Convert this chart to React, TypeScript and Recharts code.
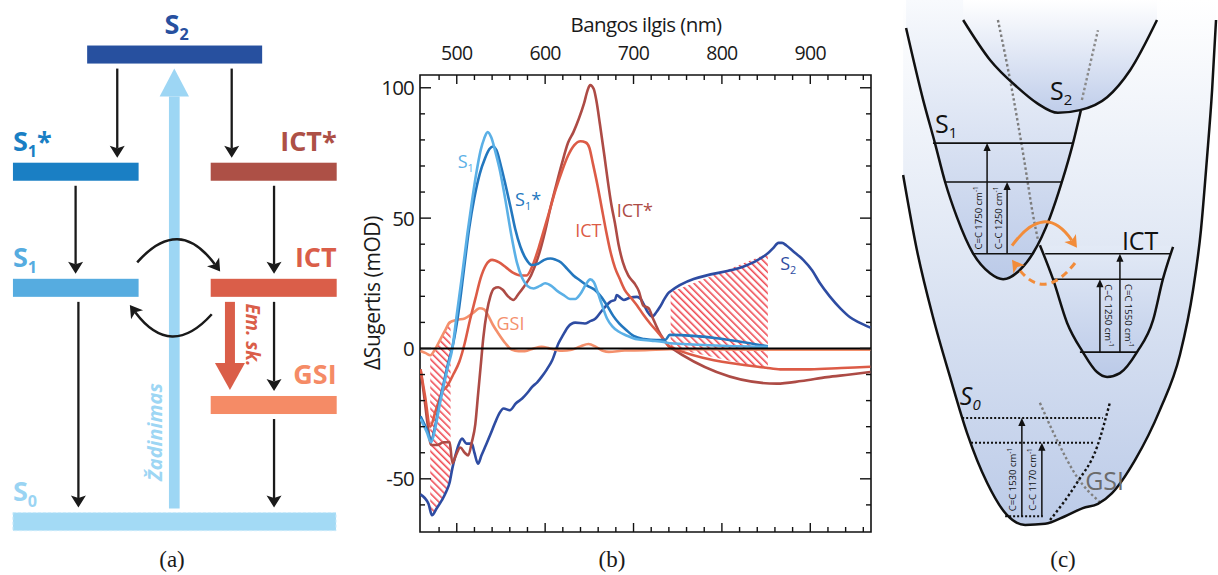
import React from 'react';
import {
  ComposedChart,
  Line,
  Area,
  XAxis,
  YAxis,
  ReferenceLine,
  ReferenceArea,
  ReferenceDot,
} from 'recharts';

type P = [number, number];
type R = [number, number, number];

// ---------- (b) spectra: [wavelength nm, ΔA mOD] ----------
const s1Spectrum: P[] = [
  [459, -27], [466, -32], [471, -36], [476, -30], [481, -21], [486, -13], [490, -7], [495, 0],
  [500, 13], [506, 28], [512, 44], [517, 56], [522, 67], [527, 76], [531, 80.5], [535, 83],
  [539, 81], [544, 75], [549, 68], [555, 57], [562, 43], [568, 33], [574, 27], [580, 24],
  [587, 23], [594, 24], [600, 25], [607, 24], [614, 22], [621, 20.5], [628, 19], [634, 19],
  [640, 21], [646, 24.5], [651, 26.5], [655, 25.5], [659, 22], [664, 17], [670, 11.5], [676, 8.5],
  [683, 6.5], [692, 5], [704, 3.5], [720, 3], [734, 2.5], [741, 2], [852, 0.6],
];
const s1StarSpectrum: P[] = [
  [459, -26], [466, -31], [471, -35], [476, -29], [481, -20], [486, -12], [490, -6], [496, 2],
  [502, 14], [508, 30], [514, 46], [520, 58], [526, 67], [532, 73], [537, 76.5], [541, 77.5],
  [545, 76], [550, 70], [555, 63], [561, 54], [566, 46], [572, 39], [578, 34.5], [585, 32],
  [592, 32.5], [599, 34], [606, 34.5], [612, 34], [618, 33], [625, 30.5], [632, 28], [640, 26],
  [648, 24], [656, 22.5], [663, 20], [670, 16.5], [677, 12.5], [684, 9.5], [692, 7], [700, 4.8],
  [712, 3.6], [726, 3.2], [736, 3.3], [741, 5.2], [852, 0.8],
];
const ictSpectrum: P[] = [
  [459, -8], [464, -18], [470, -30], [476, -24], [483, -17], [490, -14], [496, -10], [503, -5],
  [509, 2], [515, 11], [521, 19], [527, 27], [533, 32], [540, 34], [548, 33], [556, 31],
  [564, 29], [572, 28], [579, 28], [586, 32], [593, 39], [600, 47], [606, 54], [612, 61],
  [619, 68], [626, 74], [633, 78], [640, 79.5], [646, 79], [650, 77], [654, 71], [659, 63],
  [664, 54], [669, 45], [674, 37], [679, 31], [684, 27], [690, 22.5], [697, 19.5], [704, 16.5],
  [711, 13], [719, 9.5], [728, 6], [735, 3], [741, 0.6], [850, -7.4], [866, -8], [900, -8],
  [935, -7.5], [968, -7],
];
const ictStarSpectrum: P[] = [
  [459, -8], [463, -18], [467, -29], [471, -37], [478, -37], [485, -36], [492, -36], [495, -44],
  [499, -41], [504, -38], [509, -40], [513, -41], [517, -36], [521, -29], [524, -18], [527, -7],
  [530, 4], [534, 14], [538, 20], [542, 23], [547, 23.5], [552, 22.5], [558, 20], [564, 18.6],
  [570, 21], [576, 23.7], [584, 28], [592, 35], [600, 45], [606, 54], [612, 62], [619, 71],
  [626, 79], [632, 83], [638, 88], [644, 94], [648, 99], [651, 101], [655, 99.5], [658, 95],
  [662, 86], [667, 74], [671, 64], [675, 55], [679, 48], [683, 40], [688, 33], [694, 28],
  [701, 25], [706, 22], [711, 16.5], [717, 15.5], [722, 11.5], [728, 7], [734, 3.5], [741, 0.6],
  [862, -13.5], [890, -12.5], [919, -11], [945, -10], [968, -9],
];
const gsiSpectrum: P[] = [
  [459, -1], [465, -1.8], [470, -2.6], [476, 0], [481, 3.2], [487, 7], [492, 10], [500, 11],
  [509, 11.5], [518, 13.5], [526, 15.4], [531, 15], [535, 13], [541, 9], [547, 5.8], [555, 2],
  [562, -0.4], [570, -1], [577, -1], [587, 0], [596, 0.6], [605, 0], [612, -0.5], [619, -0.9],
  [630, -0.5], [640, 0.8], [649, 1.7], [658, 0.5], [666, -1], [672, -1.3], [690, -0.8], [713, -0.7],
  [741, -0.3], [850, -0.5], [968, -0.5],
];
const s2Spectrum: P[] = [
  [459, -56], [468, -59.6], [472, -64], [477, -61.5], [483, -58.3], [488, -55], [492, -51.3], [495, -46],
  [498, -41.7], [502, -37], [506, -34.6], [511, -36.5], [517, -36.5], [520, -40], [524, -44.2], [528, -41],
  [532, -37.8], [538, -33], [543, -28.8], [548, -25], [553, -23], [560, -23.7], [567, -21], [574, -19.2],
  [580, -17], [585, -14.8], [591, -13], [596, -10.9], [602, -8], [608, -4.5], [615, 1.9], [620, 5],
  [626, 8.3], [634, 9.9], [645, 9.6], [651, 10.5], [657, 11.5], [663, 14], [668, 16], [674, 18],
  [679, 18.6], [681, 20.5], [685, 19.5], [689, 18.6], [696, 19.5], [704, 19.8], [708, 19], [711, 17.3],
  [716, 14], [721, 12.2], [726, 14], [730, 16], [735, 19], [740, 21.5], [852, 36.5], [858, 38.5],
  [864, 40.5], [868, 40.5], [873, 39.5], [880, 37.5], [892, 34], [902, 30], [911, 25], [922, 20],
  [934, 15.4], [945, 12], [955, 10], [968, 8],
];
// hatched regions: [nm, low, high]
const hatchLeft: R[] = [[470, -62, -2.6], [472, -64, -1.5], [477, -61.5, 0.7], [483, -58.3, 4.5], [488, -55, 7.5], [493, -50.5, 10]];
const hatchRight: R[] = [[742, 0.3, 21.6], [800, -4, 29.3], [852, -8, 36.5]];

const nmTicks = [480, 500, 520, 540, 560, 580, 600, 620, 640, 660, 680, 700, 720, 740, 760, 780, 800, 820, 840, 860, 880, 900, 920, 940, 960];
const nmLabels = [500, 600, 700, 800, 900];
const odTicks = [-60, -50, -40, -30, -20, -10, 0, 10, 20, 30, 40, 50, 60, 70, 80, 90, 100];
const odLabels = [-50, 0, 50, 100];

const spectrumNames = ['S₁', 'S₁*', 'ICT', 'ICT*', 'GSI', 'S₂'];
const spectrumLabelAt: P[] = [[501, 69.2], [566, 54.5], [634, 42.9], [681, 50.6], [545, 7], [866, 30.1]];

// ---------- (a) energy levels ----------
const levelNames = ['S₂', 'S₁*', 'ICT*', 'S₁', 'ICT', 'GSI', 'S₀'];
const levelEnergy = [89.9, 68.2, 68.2, 46.7, 46.7, 25.0, 3.4];
const levelColumn = ['mid', 'left', 'right', 'left', 'right', 'right', 'all'];
// relaxation arrows: from level, to level, position
const decayFrom = [0, 0, 1, 2, 3, 4, 5];
const decayTo = [1, 2, 3, 4, 6, 5, 6];
const decayAt = [33.5, 66.2, 21.6, 78.3, 22.4, 78.3, 78.3];
// S1 <-> ICT exchange
const swapStart: P[] = [[39.2, 51.4], [60.5, 41.8]];
const swapEnd: P[] = [[62.9, 49.7], [37.1, 43.5]];

// ---------- (c) potential wells: [coordinate, energy] ----------
const s2Well: P[] = [[22.3, 96.3], [30.5, 88.9], [38.7, 83.9], [44.8, 80.9], [51.2, 79.1], [57.9, 79.6], [66.2, 82.0], [73.2, 87.0], [81.4, 96.3]];
const s1Well: P[] = [[4.9, 94.8], [10.1, 81.5], [13.7, 73.5], [16.8, 66.3], [20.4, 59.8], [25.3, 53.1], [30.5, 49.4], [34.5, 48.3], [39.6, 50.0], [43.6, 53.1], [48.8, 59.8], [52.4, 66.3], [55.8, 73.5], [58.2, 79.6]];
const ictWell: P[] = [[45.7, 54.6], [49.7, 48.3], [54.0, 40.2], [58.8, 34.8], [63.1, 31.1], [66.2, 30.2], [70.1, 30.9], [75.3, 34.8], [80.2, 40.7], [83.2, 48.3], [86.3, 54.3]];
const s0Well: P[] = [[4.0, 67.6], [8.2, 53.7], [13.1, 41.3], [18.3, 30.2], [23.5, 19.8], [29.6, 10.6], [35.7, 4.6], [41.2, 2.8], [47.3, 3.0], [53.4, 4.4], [58.8, 5.9], [63.4, 6.7], [67.7, 8.7], [74.7, 14.8], [82.3, 24.1], [88.4, 34.3], [92.4, 46.3], [94.8, 57.4], [96.6, 70.4], [98.2, 83.3], [99.4, 96.3]];
const guideS2Left: P[] = [[32.9, 96.3], [37.2, 83.3], [40.9, 70.4], [43.6, 60.2], [45.1, 55.6]];
const guideS2Right: P[] = [[58.5, 81.5], [63.4, 94.4]];
const guideGsiGray: P[] = [[45.7, 25.4], [50.9, 18.5], [57.0, 11.7], [64.0, 7.0]];
const guideGsiBlack: P[] = [[48.8, 3.7], [57.0, 10.6], [63.1, 17.2], [67.1, 25.6]];
// vibrational levels: [x0, x1, energy]
const vibSolid: R[] = [[13.1, 55.5, 73.5], [16.5, 52.4, 66.3], [25.3, 43.6, 53.0], [47.3, 85.4, 53.0], [49.7, 83.2, 48.3], [57.9, 75.3, 34.8]];
const vibDotted: R[] = [[22.0, 64.9, 22.6], [24.7, 62.2, 18.0], [35.1, 46.6, 4.4]];
// modes: position, from, to, label
const modeAt = [29.6, 35.7, 64.0, 70.1, 40.2, 46.3];
const modeFrom = [53.0, 53.0, 34.8, 34.8, 4.4, 4.4];
const modeTo = [73.5, 66.3, 48.3, 53.0, 22.6, 18.0];
const modeText = ['C=C 1750', 'C–C 1250', 'C–C 1250', 'C=C 1550', 'C=C 1530', 'C–C 1170'];
const orangeStart: P[] = [[37.2, 54.5], [56.4, 51.3]];
const orangeEnd: P[] = [[57.0, 54.1], [37.2, 51.9]];
const wellNames = ['S₂', 'S₁', 'ICT', 'S₀', 'GSI'];
const wellLabelAt: P[] = [[48.8, 81.5], [13.7, 75.4], [70.7, 53.7], [21.3, 25.0], [59.5, 9.3]];

// ---------- helpers ----------
const FONT = "'Open Sans', 'DejaVu Sans', sans-serif";
const SERIF = "'Liberation Serif', 'DejaVu Serif', serif";
const SUB: Record<string, string> = { '₀': '0', '₁': '1', '₂': '2' };

const pts = (p: P[]) => p.map(([x, y]) => ({ x, y }));
const ranges = (p: R[]) => p.map(([x, lo, hi]) => ({ x, r: [lo, hi] }));

function withSubs(name: string, fs: number, drop = 0.22) {
  const tokens = name.match(/[₀₁₂]+|[^₀₁₂]+/g) || [];
  let off = 0;
  return tokens.map((t, i) => {
    const isSub = !!SUB[t[0]];
    const target = isSub ? fs * drop : 0;
    const dy = target - off;
    off = target;
    return (
      <tspan key={i} dy={dy} fontSize={isSub ? fs * 0.6 : undefined}>
        {isSub ? t.split('').map((c) => SUB[c]).join('') : t}
      </tspan>
    );
  });
}

const straightArrow = (color: string, width: number, headLen: number, headHalf: number, notch = 0) =>
  (p: any) => {
    const { x1, y1, x2, y2 } = p;
    const L = Math.hypot(x2 - x1, y2 - y1) || 1;
    const ux = (x2 - x1) / L, uy = (y2 - y1) / L;
    const nx = -uy, ny = ux;
    const bx = x2 - ux * headLen, by = y2 - uy * headLen;
    const mx = x2 - ux * (headLen - notch), my = y2 - uy * (headLen - notch);
    return (
      <g>
        <line x1={x1} y1={y1} x2={mx} y2={my} stroke={color} strokeWidth={width} />
        <polygon
          points={`${x2},${y2} ${bx + nx * headHalf},${by + ny * headHalf} ${mx},${my} ${bx - nx * headHalf},${by - ny * headHalf}`}
          fill={color}
        />
      </g>
    );
  };

const curvedArrow = (color: string, width: number, bulge: number, dash?: string, headLen = 12, headHalf = 7) =>
  (p: any) => {
    const { x1, y1, x2, y2 } = p;
    const cx = (x1 + x2) / 2, cy = (y1 + y2) / 2 - 2 * bulge;
    const L = Math.hypot(x2 - cx, y2 - cy) || 1;
    const ux = (x2 - cx) / L, uy = (y2 - cy) / L;
    const nx = -uy, ny = ux;
    const bx = x2 - ux * headLen, by = y2 - uy * headLen;
    const mx = x2 - ux * headLen * 0.75, my = y2 - uy * headLen * 0.75;
    return (
      <g>
        <path d={`M${x1},${y1} Q${cx},${cy} ${mx},${my}`} fill="none" stroke={color} strokeWidth={width} strokeDasharray={dash} />
        <polygon
          points={`${x2},${y2} ${bx + nx * headHalf},${by + ny * headHalf} ${mx},${my} ${bx - nx * headHalf},${by - ny * headHalf}`}
          fill={color}
        />
      </g>
    );
  };

// ---------- (b) ----------
const B = { left: 60, right: 511, top: 75, bottom: 532 };
const specColors = ['#5BB0E6', '#2377BE', '#DC5B46', '#AD4B45', '#F4906C', '#2E4CA2'];

function NmTick(props: any) {
  const { x, payload } = props;
  const major = payload.value % 100 === 0;
  const len = major ? 9 : 5;
  return (
    <g>
      <line x1={x} x2={x} y1={B.top} y2={B.top + len} stroke="#111" strokeWidth={1.4} />
      <line x1={x} x2={x} y1={B.bottom} y2={B.bottom - len} stroke="#111" strokeWidth={1.4} />
      {nmLabels.includes(payload.value) && (
        <text x={x} y={B.top - 15} textAnchor="middle" fontSize={19.5} fontFamily={FONT} fill="#1a1a1a" letterSpacing={-0.7}>
          {payload.value}
        </text>
      )}
    </g>
  );
}

function OdTick(props: any) {
  const { y, payload } = props;
  const major = payload.value % 50 === 0;
  const len = major ? 11 : 5;
  return (
    <g>
      <line x1={B.left} x2={B.left + len} y1={y} y2={y} stroke="#111" strokeWidth={1.4} />
      <line x1={B.right} x2={B.right - len} y1={y} y2={y} stroke="#111" strokeWidth={1.4} />
      {odLabels.includes(payload.value) && (
        <text x={B.left - 6} y={y} dy="0.36em" textAnchor="end" fontSize={20.5} fontFamily={FONT} fill="#1a1a1a" letterSpacing={-0.8}>
          {payload.value}
        </text>
      )}
    </g>
  );
}

function SpectraPanel() {
  const spectra = [s1Spectrum, s1StarSpectrum, ictSpectrum, ictStarSpectrum, gsiSpectrum, s2Spectrum];
  const drawOrder = [5, 4, 3, 2, 1, 0];
  return (
    <ComposedChart
      width={520}
      height={575}
      margin={{ top: B.top - 1, right: 520 - B.right, bottom: 575 - B.bottom, left: B.left - 1 }}
    >
      <defs>
        <pattern id="hatch" patternUnits="userSpaceOnUse" width={5} height={5} patternTransform="rotate(-45)">
          <line x1={0.8} y1={0} x2={0.8} y2={5} stroke="#EE3F48" strokeWidth={1.5} />
        </pattern>
      </defs>
      <XAxis
        type="number"
        dataKey="x"
        domain={[458.4, 968.7]}
        allowDataOverflow
        orientation="top"
        height={1}
        ticks={nmTicks}
        interval={0}
        tickLine={false}
        axisLine={false}
        tickSize={0}
        tickMargin={0}
        tick={NmTick}
      />
      <YAxis
        type="number"
        domain={[-70.4, 104.9]}
        allowDataOverflow
        width={1}
        ticks={odTicks}
        interval={0}
        tickLine={false}
        axisLine={false}
        tickSize={0}
        tickMargin={0}
        tick={OdTick}
      />
      <Area data={ranges(hatchLeft)} dataKey="r" type="linear" stroke="none" fill="url(#hatch)" fillOpacity={1} isAnimationActive={false} />
      <Area data={ranges(hatchRight)} dataKey="r" type="linear" stroke="none" fill="url(#hatch)" fillOpacity={1} isAnimationActive={false} />
      {drawOrder.map((i) => (
        <Line
          key={i}
          data={pts(spectra[i])}
          dataKey="y"
          type="monotone"
          stroke={specColors[i]}
          strokeWidth={2.6}
          dot={false}
          activeDot={false}
          isAnimationActive={false}
        />
      ))}
      <ReferenceLine y={0} stroke="#000" strokeWidth={2} />
      <ReferenceArea x1={458.4} x2={968.7} y1={-70.4} y2={104.9} fill="none" stroke="#111" strokeWidth={1.6} ifOverflow="visible" />
      {spectrumNames.map((n, i) => (
        <ReferenceDot
          key={n}
          x={spectrumLabelAt[i][0]}
          y={spectrumLabelAt[i][1]}
          r={0}
          ifOverflow="visible"
          shape={(p: any) => (
            <text x={p.cx} y={p.cy} fontSize={18} fontFamily={FONT} fill={specColors[i]}>
              {withSubs(n, 18)}
            </text>
          )}
        />
      ))}
    </ComposedChart>
  );
}

// ---------- (a) ----------
const levelColors = ['#27509F', '#1A7FC4', '#AD5046', '#56ACE0', '#DA5E49', '#F58B66', '#A3DAF5'];
const labelColors = ['#27509F', '#1A7FC4', '#AD5046', '#56ACE0', '#DA5E49', '#F58B66', '#9AD4F3'];
const COLS: Record<string, [number, number]> = { left: [3.7, 39.6], right: [60.2, 96.2], mid: [24.9, 74.9], all: [3.7, 96] };
const HALF = 1.67;
const GAP = 0.93;

const barShape = (i: number) => (p: any) => {
  const { x, y, width, height } = p;
  const col = levelColumn[i];
  const fs = 27;
  let tx = x;
  let anchor: 'start' | 'end' | 'middle' = 'start';
  if (col === 'right') { tx = x + width; anchor = 'end'; }
  if (col === 'mid') { tx = x + width / 2 + 2; anchor = 'middle'; }
  return (
    <g>
      <rect
        x={x}
        y={y}
        width={width}
        height={height}
        fill={levelColors[i]}
        stroke={col === 'all' ? '#C9EAFA' : 'none'}
        strokeDasharray={col === 'all' ? '3 2' : undefined}
      />
      <text x={tx} y={y - 12} textAnchor={anchor} fontSize={fs} fontWeight={700} fontFamily={FONT} fill={labelColors[i]}>
        {withSubs(levelNames[i], fs, 0.24)}
      </text>
    </g>
  );
};

function LevelsPanel() {
  const ex = 49.8;
  const em = 65.7;
  // level centres, used as an invisible series so the chart has data to lay out
  const centres = levelEnergy.map((e, i) => ({ x: (COLS[levelColumn[i]][0] + COLS[levelColumn[i]][1]) / 2, y: e }));
  return (
    <ComposedChart width={350} height={540} margin={{ top: 0, right: 0, bottom: 0, left: 0 }}>
      <XAxis type="number" dataKey="x" domain={[0, 100]} hide allowDataOverflow />
      <YAxis type="number" domain={[0, 100]} hide allowDataOverflow />
      <Line data={centres} dataKey="y" stroke="none" dot={false} activeDot={false} isAnimationActive={false} />
      {levelNames.map((n, i) => (
        <ReferenceArea
          key={n}
          x1={COLS[levelColumn[i]][0]}
          x2={COLS[levelColumn[i]][1]}
          y1={levelEnergy[i] - HALF}
          y2={levelEnergy[i] + HALF}
          ifOverflow="visible"
          shape={barShape(i)}
        />
      ))}
      <ReferenceLine
        ifOverflow="visible"
        segment={[{ x: ex, y: levelEnergy[6] + HALF + 0.75 }, { x: ex, y: levelEnergy[0] - HALF - GAP }]}
        shape={straightArrow('#9DD6F4', 10.7, 28, 14.7)}
      />
      {decayFrom.map((f, i) => (
        <ReferenceLine
          key={i}
          ifOverflow="visible"
          segment={[
            { x: decayAt[i], y: levelEnergy[f] - HALF - GAP },
            { x: decayAt[i], y: levelEnergy[decayTo[i]] + HALF + GAP },
          ]}
          shape={straightArrow('#1a1a1a', 2.3, 12, 7.5, 2.5)}
        />
      ))}
      <ReferenceLine
        ifOverflow="visible"
        segment={[{ x: em, y: levelEnergy[4] - HALF - GAP }, { x: em, y: levelEnergy[5] + HALF + 1.1 }]}
        shape={straightArrow('#DA5E49', 10, 27, 15)}
      />
      {swapStart.map((s, i) => (
        <ReferenceLine
          key={'sw' + i}
          ifOverflow="visible"
          segment={[{ x: s[0], y: s[1] }, { x: swapEnd[i][0], y: swapEnd[i][1] }]}
          shape={curvedArrow('#1a1a1a', 2.5, i === 0 ? 26 : -25, undefined, 12, 7.5)}
        />
      ))}
    </ComposedChart>
  );
}

// ---------- (c) ----------
const modeShape = (i: number) => (p: any) => {
  const { x1, y1, x2, y2 } = p;
  const side = i === 2 || i === 3 ? 1 : -1;
  // label centred between the base line and the lower of the two upper levels
  const lower = i < 2 ? modeTo[1] : i < 4 ? modeTo[2] : modeTo[5];
  const labelE = (modeFrom[i] + lower) / 2;
  const ly = y1 + ((labelE - modeFrom[i]) / (modeTo[i] - modeFrom[i])) * (y2 - y1);
  const lx = x1 + side * 9;
  return (
    <g>
      <line x1={x1} y1={y1} x2={x2} y2={y2 + 6} stroke="#111" strokeWidth={1.5} />
      <polygon points={`${x2},${y2} ${x2 - 3.6},${y2 + 8} ${x2 + 3.6},${y2 + 8}`} fill="#111" />
      <text
        transform={`translate(${lx},${ly}) rotate(${side < 0 ? -90 : 90})`}
        textAnchor="middle"
        dominantBaseline="central"
        fontSize={9.5}
        fontFamily={FONT}
        fill="#111"
      >
        {modeText[i]} cm
        <tspan dy={-3.5} fontSize={6.5}>-1</tspan>
      </text>
    </g>
  );
};

function WellsPanel() {
  const wellStroke = { stroke: '#111', strokeWidth: 2.5, dot: false, activeDot: false, isAnimationActive: false } as const;
  return (
    <ComposedChart width={328} height={540} margin={{ top: 0, right: 0, bottom: 0, left: 0 }}>
      <defs>
        <linearGradient id="gS0" x1="0" y1="0" x2="0" y2="1">
          <stop offset="0%" stopColor="#FFFFFF" />
          <stop offset="45%" stopColor="#E2E9F5" />
          <stop offset="100%" stopColor="#BCCBE8" />
        </linearGradient>
        <linearGradient id="gS1" x1="0" y1="0" x2="0" y2="1">
          <stop offset="0%" stopColor="#F8FAFD" />
          <stop offset="100%" stopColor="#BBCAE8" />
        </linearGradient>
        <linearGradient id="gS2" x1="0" y1="0" x2="0" y2="1">
          <stop offset="0%" stopColor="#FFFFFF" />
          <stop offset="100%" stopColor="#BFCDEA" />
        </linearGradient>
        <linearGradient id="gICT" x1="0" y1="0" x2="0" y2="1">
          <stop offset="0%" stopColor="#E3EAF6" />
          <stop offset="100%" stopColor="#BBCAE8" />
        </linearGradient>
      </defs>
      <XAxis type="number" dataKey="x" domain={[0, 100]} hide allowDataOverflow />
      <YAxis type="number" domain={[0, 100]} hide allowDataOverflow />
      <Area data={pts(s0Well)} dataKey="y" type="monotone" baseValue={100} stroke="none" fill="url(#gS0)" fillOpacity={1} isAnimationActive={false} />
      <Area data={pts(s1Well)} dataKey="y" type="monotone" baseValue={100} stroke="none" fill="url(#gS1)" fillOpacity={1} isAnimationActive={false} />
      <Area data={pts(s2Well)} dataKey="y" type="monotone" baseValue={100} stroke="none" fill="url(#gS2)" fillOpacity={1} isAnimationActive={false} />
      <Area data={pts(ictWell)} dataKey="y" type="monotone" baseValue={54.5} stroke="none" fill="url(#gICT)" fillOpacity={1} isAnimationActive={false} />
      <Line data={pts(guideS2Left)} dataKey="y" type="monotone" stroke="#7D7D7D" strokeWidth={2.4} strokeDasharray="2.5 2.5" dot={false} activeDot={false} isAnimationActive={false} />
      <Line data={pts(guideS2Right)} dataKey="y" type="linear" stroke="#8A8A8A" strokeWidth={2.4} strokeDasharray="2.5 2.5" dot={false} activeDot={false} isAnimationActive={false} />
      <Line data={pts(guideGsiGray)} dataKey="y" type="monotone" stroke="#808080" strokeWidth={2.4} strokeDasharray="2.5 2.5" dot={false} activeDot={false} isAnimationActive={false} />
      <Line data={pts(guideGsiBlack)} dataKey="y" type="monotone" stroke="#111" strokeWidth={2.4} strokeDasharray="2.5 2.5" dot={false} activeDot={false} isAnimationActive={false} />
      <Line data={pts(s0Well)} dataKey="y" type="monotone" {...wellStroke} />
      <Line data={pts(s1Well)} dataKey="y" type="monotone" {...wellStroke} />
      <Line data={pts(s2Well)} dataKey="y" type="monotone" {...wellStroke} />
      <Line data={pts(ictWell)} dataKey="y" type="monotone" {...wellStroke} />
      {vibSolid.map(([a, b, e], i) => (
        <ReferenceLine key={'v' + i} ifOverflow="visible" segment={[{ x: a, y: e }, { x: b, y: e }]} stroke="#111" strokeWidth={1.6} />
      ))}
      {vibDotted.map(([a, b, e], i) => (
        <ReferenceLine key={'d' + i} ifOverflow="visible" segment={[{ x: a, y: e }, { x: b, y: e }]} stroke="#111" strokeWidth={2} strokeDasharray="2 2" />
      ))}
      {modeAt.map((m, i) => (
        <ReferenceLine key={'m' + i} ifOverflow="visible" segment={[{ x: m, y: modeFrom[i] }, { x: m, y: modeTo[i] }]} shape={modeShape(i)} />
      ))}
      {orangeStart.map((s, i) => (
        <ReferenceLine
          key={'o' + i}
          ifOverflow="visible"
          segment={[{ x: s[0], y: s[1] }, { x: orangeEnd[i][0], y: orangeEnd[i][1] }]}
          shape={curvedArrow('#F28C3A', 3, i === 0 ? 23 : -21, i === 0 ? undefined : '7 5', 12, 7)}
        />
      ))}
      {wellNames.map((n, i) => (
        <ReferenceDot
          key={'l' + i}
          x={wellLabelAt[i][0]}
          y={wellLabelAt[i][1]}
          r={0}
          ifOverflow="visible"
          shape={(p: any) => (
            <text
              x={p.cx}
              y={p.cy}
              fontSize={25}
              fontFamily={FONT}
              fontStyle={n === 'S₀' ? 'italic' : 'normal'}
              fill={n === 'GSI' ? '#6B6B6B' : '#111'}
            >
              {withSubs(n, 25, 0.2)}
            </text>
          )}
        />
      ))}
    </ComposedChart>
  );
}

export default function App() {
  return (
    <div style={{ position: 'absolute', left: 0, top: 0, width: 1218, height: 575, background: '#fff', overflow: 'hidden' }}>
      <div style={{ position: 'absolute', left: 0, top: 0 }}>
        <LevelsPanel />
      </div>
      <div style={{ position: 'absolute', left: 360, top: 0 }}>
        <SpectraPanel />
      </div>
      <div style={{ position: 'absolute', left: 890, top: 0 }}>
        <WellsPanel />
      </div>
      <svg width={1218} height={575} style={{ position: 'absolute', left: 0, top: 0, pointerEvents: 'none' }}>
        <text x={646} y={32} textAnchor="middle" fontSize={20.5} fontFamily={FONT} fill="#1a1a1a" letterSpacing={-0.6}>
          Bangos ilgis (nm)
        </text>
        <text transform="translate(372,293) rotate(-90)" textAnchor="middle" dominantBaseline="central" fontSize={21} fontFamily={FONT} fill="#1a1a1a" letterSpacing={-0.4}>
          ΔSugertis (mOD)
        </text>
        <text transform="translate(154,432) rotate(-90)" textAnchor="middle" dominantBaseline="central" fontSize={20} fontWeight={700} fontStyle="italic" fontFamily={FONT} fill="#9DD6F4">
          Žadinimas
        </text>
        <text transform="translate(253,335) rotate(90)" textAnchor="middle" dominantBaseline="central" fontSize={19} fontWeight={700} fontStyle="italic" fontFamily={FONT} fill="#DA5E49">
          Em. sk.
        </text>
        <text x={172} y={567} textAnchor="middle" fontSize={23} fontFamily={SERIF} fill="#1a1a1a">(a)</text>
        <text x={612} y={567} textAnchor="middle" fontSize={23} fontFamily={SERIF} fill="#1a1a1a">(b)</text>
        <text x={1063} y={567} textAnchor="middle" fontSize={23} fontFamily={SERIF} fill="#1a1a1a">(c)</text>
      </svg>
    </div>
  );
}
